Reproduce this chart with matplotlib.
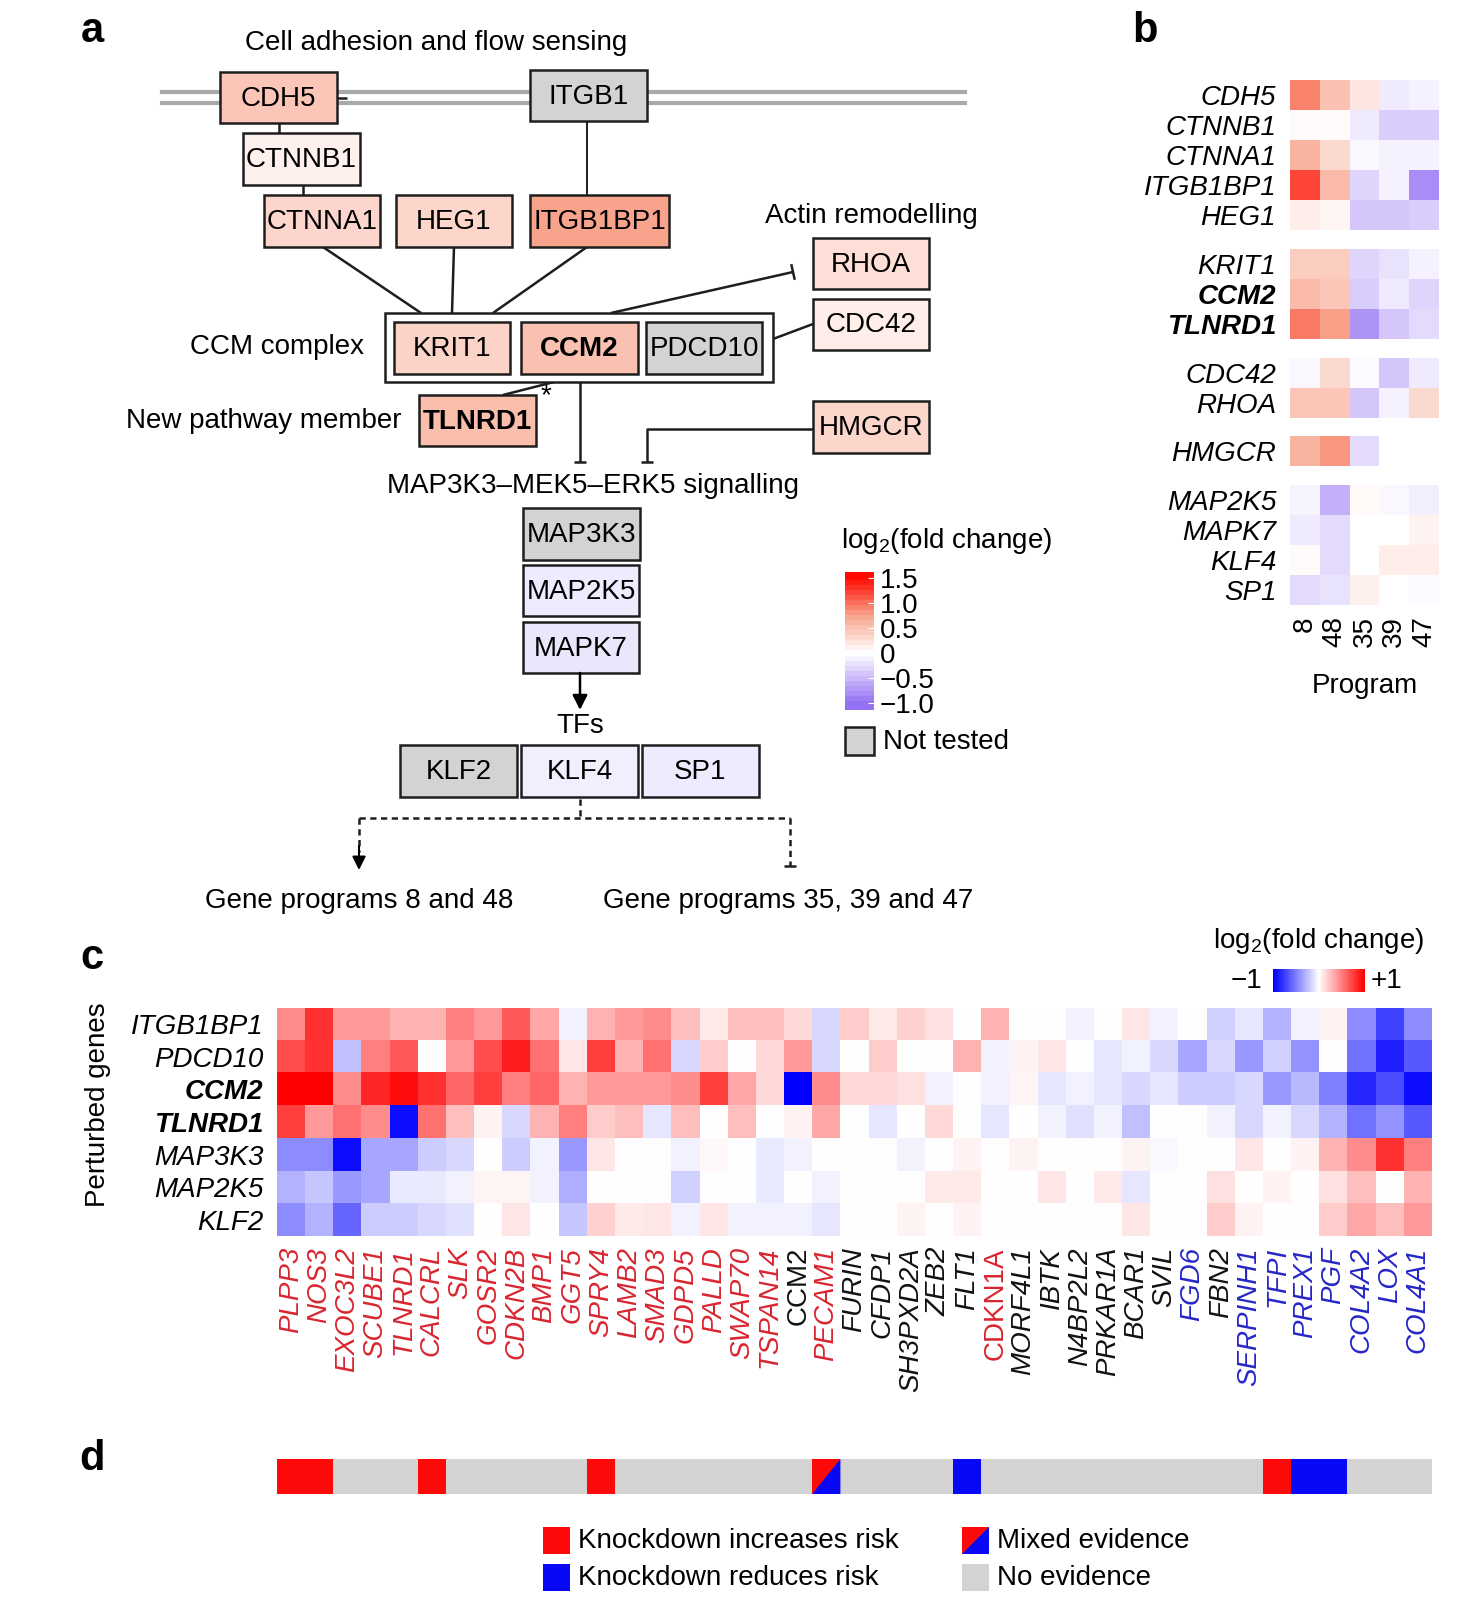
import matplotlib
matplotlib.use("Agg")
import matplotlib.pyplot as plt
import numpy as np
from matplotlib.colors import LinearSegmentedColormap, Normalize
from matplotlib.patches import Rectangle, Polygon

plt.rcParams['font.family'] = ['Liberation Sans', 'DejaVu Sans']
plt.rcParams['mathtext.fontset'] = 'custom'
plt.rcParams['mathtext.rm'] = 'Liberation Sans'
plt.rcParams['mathtext.it'] = 'Liberation Sans:italic'

W, H = 1466, 1610
FS = 20

# ---------------- data ----------------
# panel a: box fill (log2 fold change); genes not tested are grey
a_genes = ['CDH5', 'CTNNB1', 'CTNNA1', 'HEG1', 'ITGB1BP1', 'RHOA', 'CDC42',
           'KRIT1', 'CCM2', 'TLNRD1', 'HMGCR', 'MAP2K5', 'MAPK7', 'KLF4', 'SP1']
a_values = [0.45, 0.12, 0.32, 0.33, 0.72, 0.25, 0.15,
            0.35, 0.5, 0.52, 0.33, -0.15, -0.17, -0.12, -0.15]
a_not_tested = ['ITGB1', 'PDCD10', 'MAP3K3', 'KLF2']

# panel b
programs = ['8', '48', '35', '39', '47']
b_genes = ['CDH5', 'CTNNB1', 'CTNNA1', 'ITGB1BP1', 'HEG1',
           'KRIT1', 'CCM2', 'TLNRD1',
           'CDC42', 'RHOA',
           'HMGCR',
           'MAP2K5', 'MAPK7', 'KLF4', 'SP1']
b_group = [0, 0, 0, 0, 0, 1, 1, 1, 2, 2, 3, 4, 4, 4, 4]
b_values = np.array([
    [0.90, 0.50, 0.20, -0.15, -0.10],
    [0.03, 0.03, -0.15, -0.35, -0.35],
    [0.60, 0.30, -0.05, -0.10, -0.10],
    [1.20, 0.55, -0.30, -0.10, -0.80],
    [0.15, 0.08, -0.40, -0.40, -0.35],
    [0.40, 0.40, -0.30, -0.20, -0.10],
    [0.55, 0.45, -0.35, -0.15, -0.30],
    [0.95, 0.75, -0.75, -0.40, -0.25],
    [-0.05, 0.30, -0.03, -0.40, -0.15],
    [0.45, 0.45, -0.40, -0.10, 0.30],
    [0.60, 0.80, -0.25, np.nan, np.nan],
    [-0.08, -0.55, 0.05, -0.05, -0.12],
    [-0.15, -0.25, 0.00, 0.00, 0.10],
    [0.03, -0.25, 0.00, 0.15, 0.15],
    [-0.25, -0.20, 0.12, 0.00, -0.03],
])

# panel c
c_perturbed = ['ITGB1BP1', 'PDCD10', 'CCM2', 'TLNRD1', 'MAP3K3', 'MAP2K5', 'KLF2']
c_genes = ['PLPP3', 'NOS3', 'EXOC3L2', 'SCUBE1', 'TLNRD1', 'CALCRL', 'SLK', 'GOSR2',
           'CDKN2B', 'BMP1', 'GGT5', 'SPRY4', 'LAMB2', 'SMAD3', 'GDPD5', 'PALLD',
           'SWAP70', 'TSPAN14', 'CCM2', 'PECAM1', 'FURIN', 'CFDP1', 'SH3PXD2A', 'ZEB2',
           'FLT1', 'CDKN1A', 'MORF4L1', 'IBTK', 'N4BP2L2', 'PRKAR1A', 'BCAR1', 'SVIL',
           'FGD6', 'FBN2', 'SERPINH1', 'TFPI', 'PREX1', 'PGF', 'COL4A2', 'LOX', 'COL4A1']
c_label_kind = ['r'] * 18 + ['k', 'r'] + ['k'] * 5 + ['r'] + ['k'] * 6 + \
               ['b', 'k', 'b', 'b', 'b', 'b', 'b', 'b', 'b']
c_upright = ['CCM2', 'CDKN1A']
c_values = np.array([
    [0.45, 0.80, 0.40, 0.40, 0.30, 0.30, 0.50, 0.40, 0.65, 0.35, -0.05, 0.30, 0.40, 0.45,
     0.25, 0.08, 0.25, 0.25, 0.15, -0.15, 0.20, 0.08, 0.18, 0.12, 0.00, 0.30, 0.00, 0.00,
     -0.04, 0.00, 0.10, -0.04, 0.00, -0.18, -0.10, -0.30, -0.04, 0.05, -0.45, -0.75, -0.45],
    [0.70, 0.80, -0.25, 0.50, 0.65, 0.00, 0.40, 0.70, 0.88, 0.55, 0.10, 0.75, 0.30, 0.55,
     -0.15, 0.20, 0.00, 0.15, 0.40, -0.15, 0.00, 0.20, 0.00, 0.00, 0.30, -0.05, 0.05, 0.10,
     0.00, -0.10, -0.05, -0.15, -0.35, -0.15, -0.40, -0.18, -0.42, 0.00, -0.55, -0.88, -0.65],
    [1.00, 1.00, 0.45, 0.85, 0.95, 0.80, 0.60, 0.75, 0.50, 0.60, 0.30, 0.40, 0.40, 0.40,
     0.45, 0.75, 0.35, 0.15, -1.00, 0.45, 0.15, 0.15, 0.12, -0.05, 0.00, -0.05, 0.04, -0.10,
     -0.05, -0.10, -0.15, -0.10, -0.20, -0.20, -0.15, -0.40, -0.28, -0.50, -0.85, -0.70, -0.95],
    [0.75, 0.40, 0.55, 0.45, -0.95, 0.55, 0.25, 0.05, -0.15, 0.30, 0.50, 0.20, 0.25, -0.10,
     0.25, 0.00, 0.25, 0.00, 0.05, 0.35, 0.00, -0.10, 0.00, 0.15, 0.00, -0.10, 0.00, -0.05,
     -0.12, -0.05, -0.25, 0.00, 0.00, -0.05, -0.15, -0.05, -0.15, -0.30, -0.55, -0.42, -0.65],
    [-0.45, -0.45, -0.95, -0.35, -0.35, -0.20, -0.15, 0.00, -0.20, -0.05, -0.40, 0.10, 0.00,
     0.00, -0.05, 0.03, 0.00, -0.08, -0.05, 0.00, 0.00, 0.00, -0.05, 0.00, 0.05, 0.00, 0.05,
     0.00, 0.00, 0.00, 0.05, -0.03, 0.00, 0.00, 0.10, 0.00, 0.05, 0.30, 0.45, 0.80, 0.50],
    [-0.30, -0.22, -0.40, -0.35, -0.08, -0.08, -0.05, 0.04, 0.04, -0.05, -0.32, 0.00, 0.00,
     0.00, -0.18, 0.00, 0.00, -0.08, 0.00, -0.05, 0.00, 0.00, 0.00, 0.08, 0.08, 0.00, 0.00,
     0.10, 0.00, 0.08, -0.10, 0.00, 0.00, 0.12, 0.00, 0.05, 0.00, 0.12, 0.25, 0.00, 0.30],
    [-0.45, -0.30, -0.60, -0.20, -0.20, -0.15, -0.12, 0.00, 0.10, 0.00, -0.22, 0.18, 0.08,
     0.10, -0.05, 0.10, -0.05, -0.05, -0.05, -0.10, 0.00, 0.00, 0.05, 0.00, 0.05, 0.00, 0.00,
     0.00, 0.00, 0.00, 0.10, 0.00, 0.00, 0.20, 0.05, 0.00, 0.00, 0.20, 0.35, 0.25, 0.40],
])

# panel d: 0 no evidence, 1 knockdown increases risk, 2 reduces risk, 3 mixed
d_evidence = [1, 1, 0, 0, 0, 1, 0, 0, 0, 0, 0, 1, 0, 0, 0, 0, 0, 0, 0, 3,
              0, 0, 0, 0, 2, 0, 0, 0, 0, 0, 0, 0, 0, 0, 0, 1, 2, 2, 0, 0, 0]

# ---------------- styles ----------------
cmap_b = LinearSegmentedColormap.from_list(
    'lfc', [(0.0, '#9470f4'), (0.4, '#ffffff'), (0.7, '#f8a189'), (1.0, '#ff0a00')])
norm_b = Normalize(-1.0, 1.5)
GREY = '#d3d3d3'
EDGE = '#1e1e1e'
RED, BLUE = '#fc0a0a', '#0808f5'
LBL = {'r': '#d92530', 'k': '#111111', 'b': '#2626c8'}

fig = plt.figure(figsize=(W / 100, H / 100), dpi=100)
ax = fig.add_axes([0, 0, 1, 1])
ax.set_xlim(0, W)
ax.set_ylim(H, 0)
ax.axis('off')


def px_axes(x0, y0, x1, y1):
    return fig.add_axes([x0 / W, 1 - y1 / H, (x1 - x0) / W, (y1 - y0) / H])


def line(xs, ys, **kw):
    kw.setdefault('color', EDGE)
    kw.setdefault('lw', 1.8)
    ax.plot(xs, ys, zorder=2, solid_capstyle='butt', **kw)


def tbar(x, y, dx, dy, half=8):
    n = np.hypot(dx, dy)
    px, py = -dy / n * half, dx / n * half
    line([x - px, x + px], [y - py, y + py])


# ---------------- panel a ----------------
ax.text(92, 31, 'a', fontsize=30, fontweight='bold', ha='center', va='center')
ax.text(436, 43, 'Cell adhesion and flow sensing', fontsize=FS, ha='center', va='center')
for y in (92, 103):
    ax.plot([162, 965], [y, y], color='#a9a9a9', lw=3, zorder=1)

boxes = {
    'CDH5': (220, 72, 337, 123), 'ITGB1': (530, 70, 647, 121),
    'CTNNB1': (243, 133, 360, 185), 'CTNNA1': (264, 195, 380, 247),
    'HEG1': (396, 195, 512, 247), 'ITGB1BP1': (530, 195, 669, 247),
    'RHOA': (813, 238, 929, 289), 'CDC42': (813, 299, 929, 350),
    'KRIT1': (394, 322, 510, 374), 'CCM2': (521, 322, 638, 374),
    'PDCD10': (646, 322, 762, 374), 'TLNRD1': (419, 395, 536, 446),
    'HMGCR': (813, 401, 929, 453), 'MAP3K3': (523, 508, 640, 560),
    'MAP2K5': (523, 565, 639, 616), 'MAPK7': (523, 622, 639, 673),
    'KLF2': (400, 745, 517, 797), 'KLF4': (521, 745, 638, 797),
    'SP1': (642, 745, 759, 797),
}
bold_boxes = ['CCM2', 'TLNRD1']
a_color = {g: cmap_b(norm_b(v)) for g, v in zip(a_genes, a_values)}

# CCM complex frame
ax.add_patch(Rectangle((385, 313), 388, 69, fc='white', ec=EDGE, lw=1.8, zorder=2.5))
for g, (x0, y0, x1, y1) in boxes.items():
    fc = GREY if g in a_not_tested else a_color[g]
    ax.add_patch(Rectangle((x0, y0), x1 - x0, y1 - y0, fc=fc, ec=EDGE, lw=1.8, zorder=3))
    ax.text((x0 + x1) / 2, (y0 + y1) / 2 + 1, g, fontsize=FS, ha='center', va='center',
            fontweight='bold' if g in bold_boxes else 'normal', zorder=4)

# connections
line([337, 347], [98, 98])
line([279, 279], [123, 133])
line([303, 303], [185, 195])
line([587, 587], [121, 195], lw=1.4)
line([323, 421], [247, 313])
line([454, 452], [247, 313])
line([587, 493], [247, 313])
line([611, 793], [313, 272])
tbar(793, 272, 182, -41)
line([773, 813], [339, 324])
line([510, 521], [348, 348])
line([638, 646], [348, 348])
line([503, 554], [395, 382])
ax.text(546, 396, '*', fontsize=20, ha='center', va='center')
line([580, 580], [382, 462])
tbar(580, 462, 0, 1, half=6)
line([813, 647, 647], [429, 429, 462])
tbar(647, 462, 0, 1, half=6)

ax.text(364, 347, 'CCM complex', fontsize=FS, ha='right', va='center')
ax.text(402, 421, 'New pathway member', fontsize=FS, ha='right', va='center')
ax.text(871, 216, 'Actin remodelling', fontsize=FS, ha='center', va='center')
ax.text(593, 486, 'MAP3K3\u2013MEK5\u2013ERK5 signalling', fontsize=FS, ha='center', va='center')
ax.annotate('', xy=(580, 710), xytext=(580, 673),
            arrowprops=dict(arrowstyle='-|>', color='black', lw=1.8, mutation_scale=22,
                            shrinkA=0, shrinkB=0))
ax.text(580, 726, 'TFs', fontsize=FS, ha='center', va='center')

dash = dict(ls=(0, (2.5, 1.8)), lw=1.8)
line([580, 580], [799, 818], **dash)
line([359, 790], [818, 818], **dash)
line([359, 359], [818, 852], **dash)
ax.annotate('', xy=(359, 870), xytext=(359, 846),
            arrowprops=dict(arrowstyle='-|>', color='black', lw=1.5, mutation_scale=20,
                            shrinkA=0, shrinkB=0))
line([790, 790], [818, 866], **dash)
tbar(790, 866, 0, 1, half=6)
ax.text(359, 901, 'Gene programs 8 and 48', fontsize=FS, ha='center', va='center')
ax.text(788, 901, 'Gene programs 35, 39 and 47', fontsize=FS, ha='center', va='center')

# panel a/b colour key
ax.text(947, 541, 'log$_2$(fold change)', fontsize=FS, ha='center', va='center')
cax = px_axes(845, 572, 874, 710)
edges = np.arange(-1.15, 1.66, 0.1)
mids = (edges[:-1] + edges[1:]) / 2
cax.pcolormesh([0, 1], edges, mids[:, None], cmap=cmap_b, norm=norm_b)
cax.set_ylim(-1.14, 1.62)
cax.set_xlim(0, 1)
cax.set_xticks([])
cax.yaxis.tick_right()
cax.set_yticks([1.5, 1.0, 0.5, 0, -0.5, -1.0])
cax.set_yticklabels(['1.5', '1.0', '0.5', '0', '\u22120.5', '\u22121.0'], fontsize=FS)
cax.tick_params(axis='y', direction='in', length=4, color='white', pad=4)
for s in cax.spines.values():
    s.set_visible(False)
ax.add_patch(Rectangle((845, 727), 29, 28, fc=GREY, ec=EDGE, lw=1.8, zorder=3))
ax.text(883, 742, 'Not tested', fontsize=FS, ha='left', va='center')

# ---------------- panel b ----------------
ax.text(1145, 31, 'b', fontsize=30, fontweight='bold', ha='center', va='center')
gap = 0.62
pos = np.array([i + gap * g for i, g in enumerate(b_group)])
axb = px_axes(1290, 80, 1439, 605)
vals = np.ma.masked_invalid(b_values)
for g in sorted(set(b_group)):
    rows = [i for i, gg in enumerate(b_group) if gg == g]
    yedges = pos[rows[0]] + np.arange(len(rows) + 1)
    axb.pcolormesh(np.arange(len(programs) + 1), yedges, vals[rows], cmap=cmap_b, norm=norm_b)
axb.set_xlim(0, len(programs))
axb.set_ylim(pos[-1] + 1, 0)
axb.set_yticks(pos + 0.5)
axb.set_yticklabels(b_genes, fontsize=FS, style='italic')
for t in axb.get_yticklabels():
    if t.get_text() in bold_boxes:
        t.set_fontweight('bold')
axb.set_xticks(np.arange(len(programs)) + 0.5)
axb.set_xticklabels(programs, fontsize=FS, rotation=90)
axb.tick_params(length=0, pad=10)
axb.tick_params(axis='x', pad=8)
for s in axb.spines.values():
    s.set_visible(False)
ax.text(1365, 686, 'Program', fontsize=FS, ha='center', va='center')

# ---------------- panel c ----------------
ax.text(92, 958, 'c', fontsize=30, fontweight='bold', ha='center', va='center')
axc = px_axes(277, 1008, 1432, 1236)
axc.imshow(c_values, cmap='bwr', vmin=-1, vmax=1, aspect='auto', interpolation='nearest')
axc.set_yticks(range(len(c_perturbed)))
axc.set_yticklabels(c_perturbed, fontsize=FS, style='italic')
for t in axc.get_yticklabels():
    if t.get_text() in bold_boxes:
        t.set_fontweight('bold')
axc.set_xticks(range(len(c_genes)))
axc.set_xticklabels(c_genes, fontsize=FS, rotation=90)
for t, k in zip(axc.get_xticklabels(), c_label_kind):
    t.set_color(LBL[k])
    t.set_style('normal' if t.get_text() in c_upright else 'italic')
axc.tick_params(length=0, pad=10)
axc.tick_params(axis='x', pad=8)
for s in axc.spines.values():
    s.set_visible(False)
ax.text(98, 1105, 'Perturbed genes', fontsize=FS, rotation=90, ha='center', va='center')

ax.text(1319, 941, 'log$_2$(fold change)', fontsize=FS, ha='center', va='center')
ccax = px_axes(1273, 969, 1365, 992)
ccax.imshow(np.linspace(-1, 1, 100)[None, :], cmap='bwr', vmin=-1, vmax=1, aspect='auto')
ccax.axis('off')
ax.text(1262, 981, '\u22121', fontsize=FS, ha='right', va='center')
ax.text(1371, 981, '+1', fontsize=FS, ha='left', va='center')

# ---------------- panel d ----------------
ax.text(92, 1459, 'd', fontsize=30, fontweight='bold', ha='center', va='center')
axd = px_axes(277, 1459, 1432, 1494)
d_col = {0: GREY, 1: RED, 2: BLUE, 3: RED}
xs = np.arange(len(d_evidence))
axd.bar(xs, np.ones(len(xs)), width=1.0, color=[d_col[e] for e in d_evidence], lw=0)
for x, e in zip(xs, d_evidence):
    if e == 3:
        axd.add_patch(Polygon([(x - 0.5, 0), (x + 0.5, 1), (x + 0.5, 0)], closed=True,
                              fc=BLUE, lw=0))
axd.set_xlim(-0.5, len(xs) - 0.5)
axd.set_ylim(0, 1)
axd.axis('off')

legend_items = [((543, 1527), RED, 'Knockdown increases risk', False),
                ((543, 1564), BLUE, 'Knockdown reduces risk', False),
                ((962, 1527), RED, 'Mixed evidence', True),
                ((962, 1564), GREY, 'No evidence', False)]
for (x0, y0), c, label, mixed in legend_items:
    ax.add_patch(Rectangle((x0, y0), 27, 27, fc=c, lw=0, zorder=3))
    if mixed:
        ax.add_patch(Polygon([(x0, y0 + 27), (x0 + 27, y0), (x0 + 27, y0 + 27)], closed=True,
                             fc=BLUE, lw=0, zorder=3.5))
    ax.text(x0 + 35, y0 + 14, label, fontsize=FS, ha='left', va='center')

fig.savefig('out.png', dpi=100)
